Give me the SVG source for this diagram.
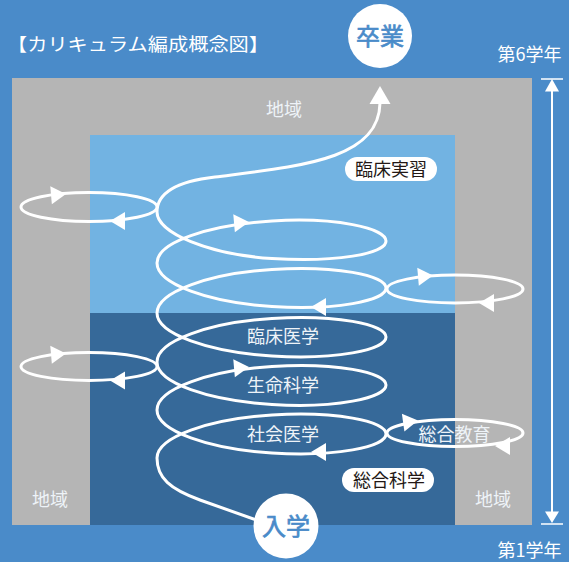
<svg xmlns="http://www.w3.org/2000/svg" xmlns:xlink="http://www.w3.org/1999/xlink" width="569" height="562" viewBox="0 0 569 562">
  <style>
    text { font-family: "Noto Sans CJK JP", "Noto Sans", sans-serif; }
    .lbl { fill: #eef3f8; font-size: 18px; text-anchor: middle; }
    .pilltxt { fill: #231815; font-size: 18px; text-anchor: middle; }
    .pill { fill: #ffffff; }
    .wire { fill: none; stroke: #ffffff; stroke-width: 3; }
    .loop { fill: none; stroke: #ffffff; stroke-width: 3; }
    .ah { fill: #ffffff; }
    .circ { fill: #ffffff; }
    .circtxt { fill: #4a8bc9; stroke: #4a8bc9; stroke-width: 0.7; font-size: 24px; text-anchor: middle; }
    .white { fill: #ffffff; font-size: 18px; }
  </style>
  <defs>
    <path id="ah" d="M0,0 L-15,-9 L-15,9 Z"/>
  </defs>

  <g id="background">
    <rect x="0" y="0" width="569" height="562" fill="#4a8bc9"/>
    <rect x="12" y="78" width="520" height="447" fill="#b5b5b5"/>
    <rect x="90" y="135" width="365" height="178" fill="#72b3e2"/>
    <rect x="90" y="313" width="365" height="212" fill="#366999"/>
  </g>

  <g id="title">
    <text class="white" x="7" y="51" textLength="262" lengthAdjust="spacingAndGlyphs">【カリキュラム編成概念図】</text>
  </g>

  <g id="region-labels">
    <text class="lbl" x="284" y="115.5">地域</text>
    <text class="lbl" x="50" y="505.5">地域</text>
    <text class="lbl" x="493" y="505.5">地域</text>
  </g>

  <g id="year-scale">
    <text class="white" x="529.5" y="61" text-anchor="middle">第6学年</text>
    <text class="white" x="529.5" y="557" text-anchor="middle">第1学年</text>
    <line x1="552" y1="90" x2="552" y2="513" stroke="#ffffff" stroke-width="2"/>
    <line x1="541" y1="79" x2="563" y2="79" stroke="#ffffff" stroke-width="1.5"/>
    <line x1="541" y1="524" x2="563" y2="524" stroke="#ffffff" stroke-width="1.5"/>
    <polygon class="ah" points="552,79 545,91.5 559,91.5"/>
    <polygon class="ah" points="552,523 545,511.5 559,511.5"/>
  </g>

  <g id="connectors">
    <path class="wire" d="M 262,522 L 200,500 C 170,489 157,478 157,458
      C 157,437 209,419 272,415 C 335,411 386,421 386,434 C 386,447 335,457 272,453 C 209,449 157,431 157,410
      C 157,389 209,370.5 272,366.5 C 335,362.5 386,372 386,385 C 386,398 335,408.5 272,404.5 C 209,400.5 157,383 157,362
      C 157,341 209,322.5 272,318.5 C 335,314.5 386,324 386,337 C 386,350 335,360 272,356 C 209,352 157,334 157,313
      C 157,292 209,273.5 272,269.5 C 335,265.5 386,275 386,288 C 386,301 335,310.5 272,306.5 C 209,302.5 157,284 157,263
      C 157,242 209,225 272,221 C 335,217 386,228 386,241 C 386,254 335,262.5 272,258.5 C 209,254.5 157,233 157,212
      C 157,192 180,181 215,177 C 300,166 379,160 380,103"/>
    <polygon class="ah" points="380,86 369.5,104 390.5,104"/>
    <use xlink:href="#ah" class="ah" transform="translate(311,452) rotate(180)"/>
    <use xlink:href="#ah" class="ah" transform="translate(249,367) rotate(-5)"/>
    <use xlink:href="#ah" class="ah" transform="translate(311,307) rotate(180)"/>
    <use xlink:href="#ah" class="ah" transform="translate(249,222) rotate(-5)"/>

    <ellipse class="loop" cx="89" cy="207" rx="68" ry="14.5"/>
    <use xlink:href="#ah" class="ah" transform="translate(66,194) rotate(-5)"/>
    <use xlink:href="#ah" class="ah" transform="translate(110,221) rotate(180)"/>

    <ellipse class="loop" cx="89" cy="366.5" rx="68" ry="14"/>
    <use xlink:href="#ah" class="ah" transform="translate(66,353.5) rotate(-5)"/>
    <use xlink:href="#ah" class="ah" transform="translate(110,380.5) rotate(180)"/>

    <ellipse class="loop" cx="455" cy="289" rx="68" ry="14"/>
    <use xlink:href="#ah" class="ah" transform="translate(433,275.5) rotate(-5)"/>
    <use xlink:href="#ah" class="ah" transform="translate(479,303) rotate(180)"/>

    <ellipse class="loop" cx="455" cy="433" rx="68" ry="13.5"/>
    <use xlink:href="#ah" class="ah" transform="translate(418,420.5) rotate(-8)"/>
    <use xlink:href="#ah" class="ah" transform="translate(495,446) rotate(180)"/>
  </g>

  <g id="node-rinshoigaku">
    <text class="lbl" x="283" y="343">臨床医学</text>
  </g>
  <g id="node-seimeikagaku">
    <text class="lbl" x="283" y="391.5">生命科学</text>
  </g>
  <g id="node-shakaiigaku">
    <text class="lbl" x="283" y="440.5">社会医学</text>
  </g>
  <g id="node-sogokyoiku">
    <text class="lbl" x="454.5" y="440.5">総合教育</text>
  </g>

  <g id="node-rinshojisshu">
    <rect class="pill" x="345" y="157" width="92" height="24" rx="12"/>
    <text class="pilltxt" x="391" y="176">臨床実習</text>
  </g>
  <g id="node-sogokagaku">
    <rect class="pill" x="342" y="468" width="92" height="24" rx="12"/>
    <text class="pilltxt" x="389" y="486.5">総合科学</text>
  </g>

  <g id="node-sotsugyo">
    <circle class="circ" cx="380" cy="36" r="32"/>
    <text class="circtxt" x="380" y="44.5">卒業</text>
  </g>
  <g id="node-nyugaku">
    <circle class="circ" cx="286" cy="526" r="32.5"/>
    <text class="circtxt" x="286" y="535">入学</text>
  </g>
</svg>
